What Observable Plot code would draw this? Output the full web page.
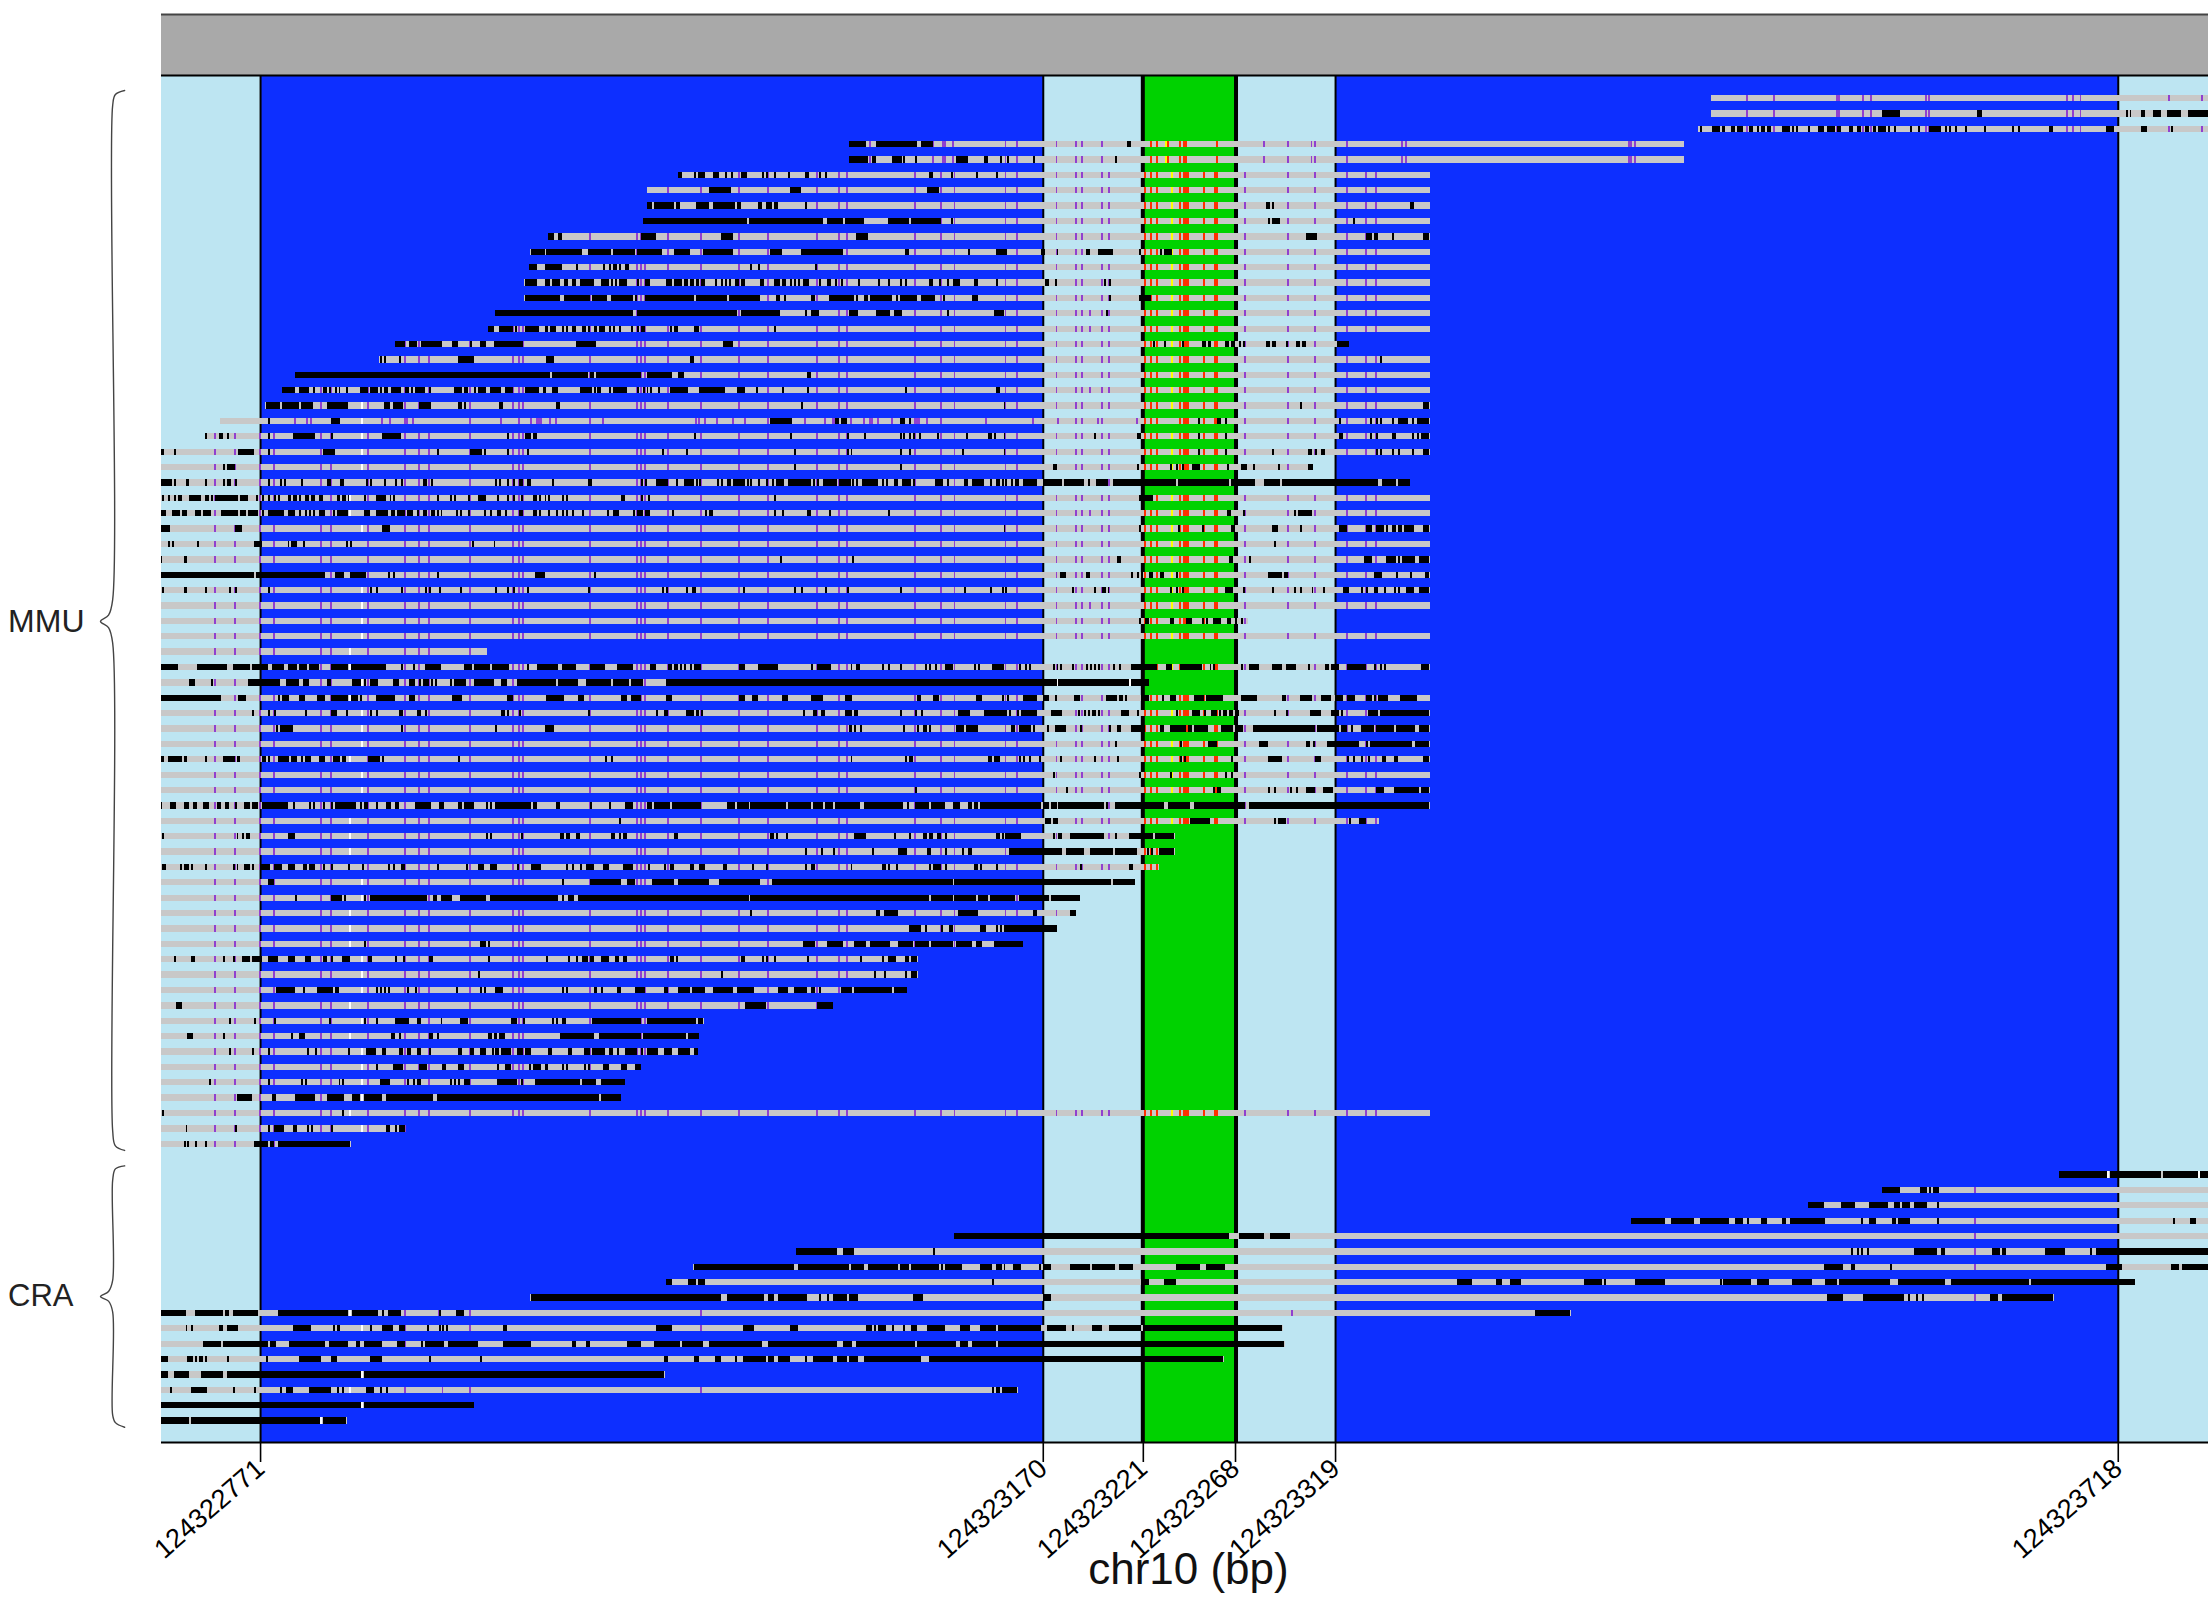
<!DOCTYPE html>
<html><head><meta charset="utf-8">
<style>html,body{margin:0;padding:0;background:#fff}svg{display:block}</style>
<script src="https://cdn.jsdelivr.net/npm/d3@7"></script>
<script src="https://cdn.jsdelivr.net/npm/@observablehq/plot@0.6"></script>
</head><body><div id="chart"></div>
<script>
// All positions are bp on chr10, written relative to chromBase.
const chromBase = 124322000;
const viewBp = [720.5, 1764];
const exonEdges = [771, 1170, 1221, 1268, 1319, 1718];
const tickLabels = ["124322771","124323170","124323221","124323268","124323319","124323718"];
const regionStarts = [720.5, 771, 1170, 1221, 1268, 1319, 1718];
const regionEnds   = [771, 1170, 1221, 1268, 1319, 1718, 1764];
const regionColors = ["#BDE5F2","#0D2FFF","#BDE5F2","#00D200","#BDE5F2","#0D2FFF","#BDE5F2"];

const rowStart = [1510.5,1510.5,1504,1071,1071,984,968,968,966,918,908.5,908,905.5,905.5,891,887,840,831.5,789,782,773.5,750.5,743,
 720,720,720,720,720,720,720,720,720,720,720,720,720,720,720,720,720,720,720,720,720,720,720,720,720,720,720,720,720,720,720,720,720,720,720,720,720,720,720,720,720,720,720,720,720,720,
 0,1688.5,1598,1560.5,1470.5,1125,1044,991.5,978.5,908.5,720,720,720,720,720,720,720,720];
const rowEnd = [1764,1764,1764,1497,1497,1367.5,1367.5,1367.5,1367.5,1367.5,1367.5,1367.5,1367.5,1367.5,1367.5,1367.5,1325.5,1367.5,1367.5,1367.5,1367.5,1367.5,1367.5,1367.5,1308,1356.5,1367.5,1367.5,1367.5,1367.5,1367.5,1367.5,1367.5,1367.5,1274.5,1367.5,886.5,1367.5,1223.5,1367.5,1367.5,1367.5,1367.5,1367.5,1367.5,1367.5,1367.5,1341.5,1237.5,1237.5,1229,1216.5,1188.5,1186.5,1176.5,1159.5,1106.5,1106.5,1101,1062.5,997.5,995,994,964.5,956.5,954.5,1367.5,845.5,817.5,
 0,1764,1764,1764,1764,1764,1764,1764,1726.5,1685.5,1439.5,1292.5,1293.5,1262.5,977.5,1157.5,879.5,815.5];

const blackRuns = [
/*0*/"",
"1598-1607 1646-1649 1722 1724 1730-1732 1736-1740 1743-1750 1754-1764",
"1505 1511-1515 1516 1517 1521-1523 1524-1527 1530-1532 1534 1536-1538 1539 1540 1547-1551 1552 1554 1560 1565-1568 1570-1574 1575-1577 1581-1583 1585-1587 1589 1590 1593-1595 1596-1600 1601 1604 1612 1616 1622-1628 1630 1632 1635 1640 1650 1664 1667 1683-1685 1712-1716 1730-1733 1745",
"1071-1080 1085-1106 1108-1114 1213-1215",
"1071-1081 1083-1085 1093-1098 1099 1105 1126-1132 1140-1142 1148 1152 1165 1207",
/*5*/"984-986 992 994-998 1002-1005 1008 1011 1016-1019 1027 1029 1033 1040 1049-1051 1056 1059 1112-1114 1123-1124 1136 1146",
"1000-1011 1041-1047 1111-1117",
"968-971 972-982 983-985 993 994-1000 1002-1013 1014-1016 1025-1027 1029-1032 1033-1035 1049 1284-1286 1287 1357-1359",
"966-1019 1020-1058 1060-1068 1069-1079 1091-1098 1098-1102 1103-1118 1123 1285 1287-1291 1328",
"918-921 923-925 965-973 1006-1012 1075-1081 1304-1310 1335-1338 1339-1341 1348 1364-1367",
/*10*/"909-916 917-935 938-950 951-962 963-976 982-990 997-1012 1031-1037 1047-1068 1100 1101 1132 1146-1152 1169-1171 1177 1192 1193 1198-1206 1219-1220 1230 1232-1236",
"908-912 916-925 932 946 949 951-953 954 957-959 1021 1025 1054",
"906-912 916-919 920-924 926-928 930-932 934-941 945-949 950 952 954-958 963 967-970 978-981 982-986 987-989 990 991 993-995 996-998 1003 1006 1008 1010 1013-1015 1016-1018 1026-1028 1033-1036 1037-1039 1041 1043 1045-1046 1048 1049-1051 1056 1060-1062 1064 1067 1076 1086 1091 1097 1100 1112-1114 1117 1121 1124-1128 1135-1137 1146 1171-1173 1176 1201 1204",
"906-924 926-939 940-948 950-961 962-963 967-992 993-1009 1010-1026 1034-1036 1038 1052-1054 1061-1074 1075 1079-1081 1082-1093 1095 1097-1106 1108-1115 1119 1134-1137 1204-1205 1219-1225",
"891-961 963-1014 1016-1036 1049 1052-1056 1071-1076 1085-1092 1094-1098 1121 1145-1150 1202",
/*15*/"887-890 893-900 901 906-912 912 916-918 919-922 925 927 930-932 935-937 938 941-943 944-947 949 951-952 954 960-961 963 965-967 980 982-984 992-995 1033",
"840-845 847-851 853-864 869-872 878 883-886 890-905 932-942 1007-1012 1226 1232 1241 1251-1253 1254-1256 1263-1265 1266-1268 1270-1271 1272 1284-1286 1287-1289 1294 1299-1301 1302-1304 1320-1326",
"832 834 842 872-880 917-921 990-992 1342",
"789-919 920-938 939-941 942-965 968-981 984-987 1050-1052",
"782-789 791-796 798 803-805 806 809 811 815 822-826 827-831 832 834-836 838-843 845-847 848 850-855 857-858 870-874 875-877 880 882-886 888-894 896-900 906-913 915-917 920-923 934-939 939 941 943-945 949 951-958 963 966 968 970 974 980-989 995-1008 1014-1018 1024 1037 1050 1100 1146-1148",
/*20*/"774-781 782-791 792-798 805-808 808-816 834-837 839-844 852-858 872-874 875 893-895 922 923 1047 1150 1301 1364-1367",
"775 807-812 1031-1042 1064-1066 1067-1070 1097-1100 1102 1249 1259-1261 1263 1321 1337 1340 1342 1348 1351-1356 1358 1361-1367",
"743 750-752 754 775 788-799 807 833-843 897 906-909 910-912 992 1041 1070 1079 1097 1099 1102 1104 1107 1116 1131 1142-1144 1145 1150 1196 1218-1220 1249 1263 1321 1322 1337 1340 1348-1350 1358 1361 1363 1364-1367",
"720-722 727 760-768 775 803-809 861 878-884 885 897 907 976 988 1043 1070 1072 1097 1102 1129 1150 1249 1263 1287 1305-1307 1309-1310 1312-1314 1340 1342 1348 1351 1358 1364-1367",
"752 754-758 1043 1097 1175-1177 1218 1235 1238 1241 1246-1250 1264 1271-1274 1277 1290 1305-1308",
/*25*/"720-726 727 733-735 743 752 754-756 758 775 781 783 792 805-807 812-814 825 827 834 840 843 854-856 858 891 893 897 900 903-905 907-909 920 938-940 965 967 973-979 983 987-992 993 995 1004 1006 1009-1011 1012-1018 1019 1021-1022 1025 1029 1032 1034 1035-1038 1040-1052 1053 1055 1058-1065 1066-1072 1073 1075 1078-1086 1088 1090 1094-1096 1098-1103 1104 1115-1119 1121 1130-1132 1134-1140 1143 1146-1148 1149 1151 1154 1156-1158 1160-1167 1170-1180 1181-1191 1193-1194 1197-1203 1206-1238 1239-1265 1266-1278 1283-1291 1292-1341 1343-1350 1351-1357",
"721 724 727 729-731 735-741 743-745 746 748-754 754-760 761-765 769 772 775 778 780 785-787 788-790 791 794 795 797-799 801-803 810-812 813-815 816 824 830-832 832-835 837 839 861 868 870 877 882-886 892 897 900 904 910-912 913 916 918 925-926 927 955-957 965 969 1033 1219-1226",
"720-723 726-728 728-730 731-734 738-741 742-746 751-760 761-764 765-770 772 775-780 780-783 785-789 791 794 796 798 801-804 808 810-812 812-816 824-827 830-836 838-840 841-845 846-849 851 854-856 858 859-860 861 863 871 873 877 885 888 892-894 896 903-905 910-912 913 918 922 925 927 930 935 948 951-954 961 963-966 967-970 981 998 1000-1002 1033 1037 1050-1052 1061 1091 1264-1266 1272 1298 1300-1307",
"720-725 758-762 833-837 1150 1219 1239 1251 1266-1268 1287-1290 1301 1321-1325 1335-1338 1340-1344 1345 1348-1350 1351-1353 1354-1359 1364-1367",
"724 726 739 768-772 785 787-790 793 815 817 879 890 1288",
/*30*/"720-721 732-734 1036 1073 1208-1210 1265-1267 1275 1334-1338 1345-1350 1351-1352 1353-1360 1362-1367",
"720-768 769-804 809-814 817-825 836 839 861 911-916 941 1179-1182 1192-1194 1215 1218 1220-1221 1224-1226 1230-1232 1238 1285-1292 1293-1295 1339-1343 1350-1351 1357-1358 1365-1367",
"721 732-734 743 755 758 775 827 830 843 855 857 862 873 891 897 900 907 938 976 978 988 991 992 1017-1018 1043 1047 1059 1070 1097 1130 1143 1149 1151 1185 1196 1200-1202 1203 1235 1238 1241 1263-1267 1272 1287 1298 1301-1302 1307 1313 1323 1324-1326 1332 1335 1339 1340 1344 1349 1351 1355-1359 1362-1367",
"",
"1219 1222-1224 1235-1237 1243-1246 1251 1253 1257-1261 1264-1266 1268 1271",
/*35*/"",
"",
"720-729 739-754 757-766 767-775 777-783 785-790 791-795 796-801 807-816 817-821 821-835 843 849 855-863 875-879 880-888 889-898 907 912-923 925-932 939-947 953-961 970-973 979-981 982-984 985 987 990 992-996 1015-1018 1025-1035 1052-1053 1055-1062 1072 1075-1077 1088 1091 1097 1110 1112 1115 1120-1124 1135 1137 1144-1150 1158 1161 1163 1175 1177 1179 1185 1192 1194 1196 1198 1206 1209 1215-1228 1233 1234-1236 1240-1251 1255 1257 1271 1275-1280 1287-1292 1294-1299 1305 1314-1316 1317-1321 1325-1335 1339 1342 1344 1363-1367",
"735-738 746 765-781 784-791 793-796 805-807 818-823 824 827-831 839-842 847-850 852 854-857 858 860 868 870-876 880-890 894-897 902-922 923-933 937-950 951-958 958 960-966 978-1177 1178-1214 1215-1224",
"720-751 760-764 780-781 782-786 791-794 800-804 807-816 817-821 822 830-840 847-850 869-874 897-900 917-926 933-936 955-958 960-965 978-981 1015-1018 1022-1025 1037-1040 1052-1058 1069-1073 1106-1108 1114-1117 1136-1139 1149 1152 1160-1167 1170-1173 1176 1186-1189 1202-1208 1209-1211 1212 1220-1224 1231 1235-1238 1247-1252 1253-1262 1271-1279 1292-1294 1301-1307 1312-1317 1319-1323 1325-1329 1335-1338 1339 1341-1346 1352-1361",
/*40*/"767 775 778 794 807-810 815 827 830 842-844 851-853 855 894-896 897 903 938 973 977-979 988-992 993-995 996 1048-1049 1053-1055 1057-1059 1069-1071 1071-1073 1074-1076 1097 1105 1108 1127-1133 1140-1152 1153 1157 1159-1167 1174-1180 1188 1191 1193 1195-1197 1198 1210-1214 1218 1238 1246-1250 1252 1256-1259 1260 1262-1264 1265-1267 1268-1270 1288 1294 1306-1312 1317-1321 1322 1336-1341 1342-1367",
"779-780 781-788 843 891 916-921 1071-1073 1074 1077 1099 1106-1107 1109-1111 1112 1126-1130 1131-1137 1154-1156 1158-1164 1165 1172 1176-1182 1189 1204 1208-1210 1215-1222 1230-1232 1235-1243 1244-1246 1247-1254 1261-1267 1268-1272 1277-1309 1310-1321 1322-1325 1327 1332-1339 1340-1349 1350-1360 1362-1367",
"1207 1240 1254-1259 1280-1285 1304-1306 1308 1315-1331 1335 1337-1358 1360-1367",
"720-722 724-731 732-734 743 752-758 759-761 772-774 775 780-786 787-790 792 794-797 801-804 808-812 813-815 826-832 833 872 947 950 1072 1100 1102-1104 1142-1144 1145-1148 1158 1160 1163 1168 1179-1180 1196 1208 1240 1242 1266 1285-1292 1309-1312 1325 1328 1332 1336 1343-1345 1349-1351 1364-1367",
"1175 1219 1235 1263 1266",
/*45*/"1105 1182 1257 1259-1261 1285 1288 1296 1299 1304-1309 1313-1318 1340-1344 1349-1362 1363-1367",
"720-721 725-728 732-735 737-739 742-745 749-751 753-755 758 763-766 767-770 772-785 788 796 798 803 807-808 809-820 822 824-826 830 835-838 840-842 850-858 862-865 872-874 875-880 886 888 891-909 910-912 922-924 939 949 957-961 968-971 972-980 981-996 1009-1013 1014-1020 1021-1039 1040-1052 1053-1058 1059-1063 1064-1077 1079-1099 1101 1105-1112 1113-1120 1124-1128 1132-1134 1135-1137 1138-1169 1170-1173 1174-1177 1178-1201 1202 1207-1232 1234-1245 1247-1273 1275-1367",
"954 1171-1174 1175-1178 1245-1255 1288 1290-1294 1326-1327 1331-1335",
"721 759 762 764-766 785-789 886 888 904 924-926 927-929 932-934 950-952 954 956-958 982-984 1031-1033 1034 1039 1074-1076 1076-1080 1094 1102-1103 1109-1111 1112-1114 1116-1118 1120 1146-1148 1149 1151-1159 1175 1178-1180 1184-1201 1207 1214-1226 1227-1237",
"1049 1057 1063 1083 1096-1101 1111-1113 1120 1129 1132-1134 1153-1180 1182-1191 1194-1206 1207-1218 1223 1225 1229-1237",
/*50*/"721-723 730 732-735 736 743 757 759 763-766 767 771-776 778-782 785-789 793-795 796-799 803 807 816 823 836 839 843-845 861 876 882-885 888-892 902 909-914 927 930 934 937-939 939-941 946-949 956-961 969 977 980-982 990-992 995-998 1007-1009 1022 1029 1049 1052-1054 1072 1088-1090 1091 1095 1112 1114-1118 1120 1135-1137 1138 1146 1189 1214-1216",
"775-778 925 939-955 958-962 971-982 984-1000 1005-1026 1032-1124 1125-1205 1206-1217",
"789 807-813 814 824 827 828-856 859-861 863-869 873-886 888-923 925 928-931 933-1020 1021-1112 1113-1124 1125-1136 1137-1142 1143-1156 1158-1173 1174-1189",
"1021 1085-1087 1089-1096 1127-1137 1165-1167 1184-1187",
"1102-1108 1110 1118 1122 1123 1138-1141 1146 1148 1150 1151-1177",
/*55*/"824 883-886 887 1048-1054 1060-1068 1074-1080 1082-1092 1096-1104 1105-1112 1113-1124 1126-1134 1136-1139 1145-1151 1151-1160",
"727 736-738 752 757 762-766 767-772 775-780 785-789 794-797 803-805 807 813-817 826-828 840 844 857-859 887 917 928 932 935-938 939-941 945-949 952-954 956-958 980-982 983 1016-1018 1027 1029 1033 1050 1077 1088 1091-1095 1100-1102 1103-1106",
"882 1006 1084 1089 1100 1103-1106",
"779-789 793 800-808 809-811 830 832 834 836 846 850 871 883 885 891 892-895 925 927 941-943 945 953-955 962-967 977-979 984-990 991-998 1002-1012 1014-1023 1035-1040 1043-1050 1052-1054 1056 1067-1073 1074-1093 1094-1101",
"728-731 1018-1029 1055-1063",
/*60*/"755 768 778 806 824 830 840-847 851-853 863 873-877 899-902 905 920 922 925-927 940-965 968-993 994-997",
"734-737 752 787 791-794 838-840 842 857-859 861 887-889 890-892 893-896 924-941 944-965 966-988 989-995",
"755 767 775 795 799 816 825-830 833-835 842-844 846-848 851-853 857-858 872-874 878-880 883-886 889 891-893 894-899 902-905 906-909 918-920 928-930 936-939 940-947 949-951 953 957-963 965 968-974 977-981 984-990 992-994",
"830 839-844 852-856 864-866 872-875 892 896 897-899 908 910-914 916-918 925 927 936 938 946-949 955-958 962-965",
"745 775 792-793 794 811 813 832-837 846 849 851-853 868 870 872 875-878 892-902 904 911-934 935-942 945-957",
/*65*/"759-767 777-779 789-799 805-814 818 819-822 824-833 835-859 861-944 945-955",
"721 813",
"733 758 775 778-780 780-783 788-790 795 797 807 835-837 840 842-845",
"732 734 738 743 768-775 776-778 780-817",
"",
/*70*/"1688-1713 1714-1740 1741-1759 1760-1764",
"1598-1607 1617-1621 1622 1624-1627",
"1560-1568 1577-1584 1591-1601 1604-1607 1608-1612 1614-1621 1626",
"1470-1487 1490-1502 1505-1520 1523-1527 1529 1536-1539 1547-1549 1551-1569 1587 1591-1595 1603-1605 1606-1612 1626-1627 1746 1755-1758",
"1125-1265 1270-1283 1286-1296",
/*75*/"1044-1065 1068-1074 1114 1582 1585 1587 1590-1591 1614-1626 1628-1630 1654-1658 1659-1661 1681-1691 1704 1707-1764",
"992-1043 1045-1071 1072-1079 1081-1096 1097-1102 1103-1117 1118 1120-1129 1138-1144 1146-1149 1150 1155-1159 1168 1170-1174 1184 1185-1194 1195-1207 1209-1216 1238-1250 1253-1263 1568-1578 1582-1584 1602 1712-1720 1745-1749 1751-1764",
"978-981 989-993 994-998 1144 1220-1224 1232-1238 1381-1389 1401-1404 1408-1414 1446-1455 1456 1472-1487 1515 1517-1531 1534-1540 1552-1562 1569-1575 1576-1602 1606-1630 1633-1673 1674-1727",
"909-1006 1009-1028 1030-1033 1035-1050 1056 1060-1061 1063-1070 1071-1076 1104-1109 1170-1174 1570-1578 1588-1609 1611 1615 1618 1653-1657 1659-1685",
"720-733 738-752 753-755 757-770 780-816 818-831 833 836 837-843 862 871-875 1421-1439",
/*80*/"733 736 750-752 754-760 788-797 808 810-812 827 833-839 842-845 856 862 864 866 895-897 973-981 1017-1023 1041-1045 1080-1083 1084 1086-1090 1093 1099 1103-1106 1111-1120 1128-1133 1138-1146 1147-1169 1172-1182 1185 1195-1200 1204 1205-1220 1221-1292",
"742-751 752-775 776-779 786-804 806-816 820-822 824-833 841-845 853 855-865 867-882 895-909 930-932 937-939 958-965 972-982 982-985 986-997 1000-1027 1030-1065 1068-1073 1075-1105 1106-1126 1128-1132 1134-1146 1147-1293",
"720-724 734-737 738 740-742 743 754 774 791-802 807-810 827-833 857 883 977-979 992-995 1003-1006 1013 1017-1029 1030-1033 1035-1041 1049 1053-1063 1065-1070 1071-1076 1079-1108 1112-1262",
"720-724 727-735 741-752 754-823 824-977",
"725 736-744 757 768 781 784-788 796-807 810 813 825-829 832 835 1144 1146-1148 1149-1157",
/*85*/"720-823 824-880",
"720-735 736-802 803-815"
];

// Variant columns: centre of a one-base cell.
const purpleMain = [748,758,771,778,802,807,826,845,852,857,878,900,903,905,939,963,965,967,979,996,1015,1030,1055,1066,1070,1105,1118,1125,1151,1157,1177,1187,1190,1200,1204,1273,1295,1309,1325,1335,1340];
const purpleTop = [1529,1543,1575,1576,1588,1592,1620,1622,1692,1695,1699,1744,1761];
const purpleLong = [1082,1114,1119,1120,1124,1151,1157,1177,1187,1190,1200,1283,1295,1307,1309,1325,1353,1355,1469,1470,1472];
const purpleRow21 = [789,795,797,833,837,845,846,849,878,894,903,909,912,913,914,919,922,939,946,993,995,998,1004,1012,1018,1030,1049,1059,1063,1064,1072,1079,1082,1083,1086,1093,1105,1106,1107,1111,1118,1141,1165,1178,1187,1190,1198,1200,1218,1273,1295,1309,1325,1335,1340];
const purpleExtra = [[14,1194],[15,1194],[19,1194],[27,1194],[33,1194],[71,1645],[73,1645],[74,1645],[75,1645],[76,1645],[78,1645],[79,845],[79,862],[79,878],[79,996],[79,1297],[80,845],[80,878],[80,996],[81,845],[84,845],[84,864],[84,878],[84,996]];
const redMain = [1222,1225,1228,1240,1242,1243,1244,1252,1258,1259];
const redLong = [1225,1228,1233.7,1240,1242,1243,1259];
const yellowMain = [1236];
const yellowLong = [1232.8];
const whiteAt823 = [20,21,22,23,24,28,32,33,34,35,38,40,41,42,44,45,51,52,56,57,58,60,62,63,64,65,67,80,83,85];
const whiteAt817 = [26,27,36,37,39,43,47,48,49,53,54,55,59,61,66,79,84];
const whiteExtra = [[86,802],[70,1713],[70,1759.5],[38,1177.5],[38,1214.5]];

const groupNames = ["MMU","CRA"];
const groupRows = [34, 77.9];
// Brace outlines: [bp, row]
const braceMMU = [[701.7,-0.52],[697,-0.26],[695.6,0.46],[695.6,32.6],[693.5,33.6],[689.4,34],[693.5,34.4],[695.6,35.4],[695.6,67.1],[697,68.1],[701.7,68.4]];
const braceCRA = [[701.7,69.4],[697,69.6],[695.6,70.35],[695.6,76.85],[693.5,77.57],[689.4,77.9],[693.5,78.2],[695.6,78.9],[695.6,85.6],[697,86.1],[701.7,86.4]];

const X = d => chromBase + d;
const half = 0.205;
const rows = rowStart.map((s,i)=>({row:i,start:s,end:rowEnd[i]})).filter(d=>d.end>d.start);
const runs = blackRuns.flatMap((txt,row)=>txt.split(" ").filter(Boolean).map(t=>{
  const p=t.split("-").map(Number);
  return {row,start:p[0],end:p.length>1?p[1]:p[0]+1};
}));
const inRow=(row,p)=>p>=rowStart[row]&&p<rowEnd[row]&&rowEnd[row]>rowStart[row];
const sites=[];
const add=(row,list,color)=>list.forEach(p=>{if(inRow(row,p))sites.push({row,p,color});});
rowStart.forEach((_,row)=>{
  if(row<=2) add(row,purpleTop,"#9040D0");
  else if(row<=4){add(row,purpleLong,"#9040D0");add(row,redLong,"#FF3000");add(row,yellowLong,"#FFFF00");}
  else if(row==21){add(row,purpleRow21,"#9040D0");add(row,redMain,"#FF3000");}
  else if(row<=68){add(row,purpleMain,"#9040D0");add(row,redMain,"#FF3000");add(row,yellowMain,"#FFFF00");}
});
purpleExtra.forEach(([row,p])=>add(row,[p],"#9040D0"));
const whites=[...whiteAt823.map(row=>({row,p:823})),...whiteAt817.map(row=>({row,p:817})),...whiteExtra.map(([row,p])=>({row,p}))];

const yTop=-5.46, yBand=-1.495, yBottom=87.39;
const crisp={shapeRendering:"crispEdges"};
const bar=(data,s,e,fill)=>Plot.rect(data,{x1:d=>X(s(d)),x2:d=>X(e(d)),y1:d=>d.row-half,y2:d=>d.row+half,fill,clip:true,...crisp});

const chart = Plot.plot({
  width:2208,height:1597,marginLeft:161,marginRight:0,marginTop:14,marginBottom:155,
  style:{fontFamily:"'Liberation Sans',Arial,sans-serif",background:"#fff"},
  x:{domain:[X(viewBp[0]),X(viewBp[1])],axis:null},
  y:{domain:[yBottom,yTop],axis:null},
  marks:[
    Plot.rect(regionStarts,{x1:d=>X(d),x2:(d,i)=>X(regionEnds[i]),y1:yBand,y2:yBottom,fill:(d,i)=>regionColors[i],...crisp}),
    Plot.rect([0],{x1:X(viewBp[0]),x2:X(viewBp[1]),y1:yTop,y2:yBand,fill:"#A9A9A9",...crisp}),
    Plot.ruleY([yTop],{stroke:"#444",strokeWidth:2}),
    Plot.ruleY([yBand],{stroke:"#000",strokeWidth:2}),
    Plot.ruleY([yBottom],{stroke:"#000",strokeWidth:2}),
    Plot.ruleX([771,1170,1319,1718],{x:X,y1:yBand,y2:yBottom,stroke:"#000",strokeWidth:2}),
    Plot.ruleX([1221],{x:X,y1:yBand,y2:yBottom,stroke:"#000",strokeWidth:4,dx:-0.5}),
    Plot.ruleX([1268],{x:X,y1:yBand,y2:yBottom,stroke:"#000",strokeWidth:4,dx:0.5}),
    bar(rows,d=>d.start,d=>d.end,"#C8C8C8"),
    bar(sites,d=>d.p-0.5,d=>d.p+0.5,d=>d.color),
    bar(runs,d=>d.start,d=>d.end,"#000"),
    bar(whites,d=>d.p-0.5,d=>d.p+0.5,"#fff"),
    Plot.axisX(exonEdges.map(X),{tickSize:20,tickPadding:2,tickRotate:-41,tickFormat:(d,i)=>tickLabels[i],fontSize:27,label:null,strokeWidth:1.6,stroke:"#000"}),
    Plot.text(["chr10 (bp)"],{x:X(1244),y:95.7,fontSize:44,fill:"#111",textAnchor:"middle"}),
    Plot.text(groupNames,{x:X(642.3),y:(d,i)=>groupRows[i],fontSize:(d,i)=>i?31:32,fill:"#222",textAnchor:"start"}),
    Plot.line(braceMMU,{x:d=>X(d[0]),y:d=>d[1],curve:"catmull-rom",stroke:"#444",strokeWidth:1.4}),
    Plot.line(braceCRA,{x:d=>X(d[0]),y:d=>d[1],curve:"catmull-rom",stroke:"#444",strokeWidth:1.4})
  ]
});
document.getElementById("chart").append(chart);
</script></body></html>
